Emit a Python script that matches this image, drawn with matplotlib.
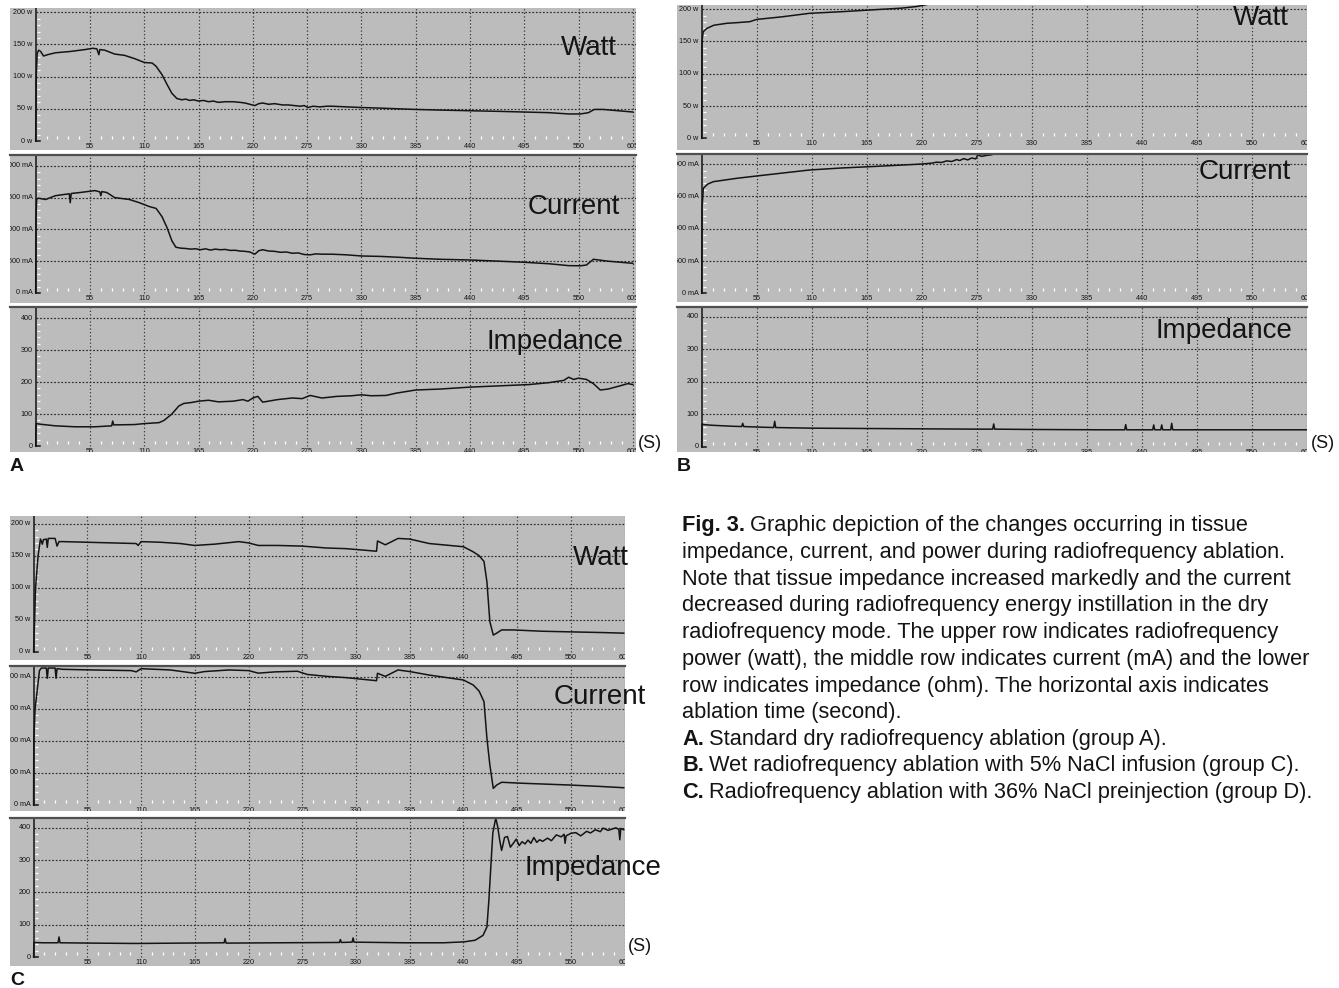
import matplotlib
matplotlib.use("Agg")
import matplotlib.pyplot as plt

plt.rcParams['font.family'] = ['Liberation Sans', 'DejaVu Sans']

# ---- data (time in s) ----
time_ticks = list(range(55, 606, 55))
watt_ticks = [0, 50, 100, 150, 200]
ma_ticks = [0, 500, 1000, 1500, 2000]
ohm_ticks = [0, 100, 200, 300, 400]

a_watt_t = [0, 0.5, 1.5, 3, 5, 8, 12, 20, 35, 50, 58, 62, 64, 65, 70, 80, 90, 100, 110, 118,
            122, 128, 133, 138, 143, 148, 152, 156, 160, 165, 170, 175, 180, 185, 192, 200, 207,
            212, 217, 222, 226, 230, 236, 242, 250, 256, 262, 268, 272, 276, 281, 288, 295, 300,
            315, 330, 350, 385, 410, 440, 470, 495, 520, 540, 552, 560, 566, 575, 590, 605]
a_watt_v = [0, 100, 136, 141, 139, 132, 134, 137, 139, 142, 144, 143, 134, 142, 141, 135, 133, 128,
            122, 121, 116, 103, 88, 74, 66, 64, 65, 63, 64, 62, 63, 61, 62, 60, 61, 61, 60, 59, 57,
            55, 58, 59, 57, 58, 56, 56, 55, 54, 55, 52, 54, 53, 54, 54, 53, 52, 51, 49, 48, 47, 46,
            45, 44, 42, 42, 44, 49, 49, 47, 45]

a_ma_t = [0, 0.3, 1, 3, 10, 20, 34, 35, 36, 45, 55, 60, 65, 66, 67, 72, 80, 95, 105, 115, 122, 128,
          133, 138, 142, 147, 152, 157, 162, 167, 172, 177, 182, 187, 192, 197, 202, 207, 212, 217,
          222, 226, 230, 236, 242, 248, 254, 260, 266, 272, 278, 284, 290, 300, 315, 330, 350, 370,
          385, 410, 440, 470, 495, 520, 540, 552, 558, 565, 580, 605]
a_ma_v = [0, 1200, 1480, 1490, 1470, 1530, 1560, 1420, 1565, 1580, 1600, 1610, 1590, 1530, 1595, 1580,
          1500, 1470, 1420, 1360, 1330, 1200, 1030, 820, 720, 705, 700, 690, 695, 680, 695, 675, 690,
          680, 685, 670, 672, 660, 655, 645, 610, 665, 680, 660, 655, 640, 645, 625, 630, 605, 600,
          615, 610, 610, 600, 582, 575, 560, 546, 530, 519, 500, 483, 460, 430, 428, 440, 530, 500,
          467]

a_ohm_t = [0, 0.3, 5, 20, 40, 60, 77, 78, 79, 80, 100, 110, 125, 130, 138, 145, 150, 158, 165, 175,
           185, 200, 210, 215, 220, 225, 230, 245, 260, 270, 278, 290, 305, 320, 330, 340, 355, 365,
           385, 410, 440, 470, 500, 520, 535, 540, 545, 550, 558, 565, 572, 580, 592, 600, 605]
a_ohm_v = [0, 70, 68, 63, 60, 60, 63, 78, 66, 66, 67, 70, 73, 80, 100, 125, 133, 136, 140, 143, 138,
           140, 145, 140, 150, 155, 137, 145, 150, 148, 158, 150, 155, 157, 160, 157, 158, 165, 175,
           178, 184, 188, 192, 198, 205, 215, 208, 212, 208, 195, 175, 178, 188, 195, 192]

b_watt_t = [0, 0.3, 1.5, 5, 12, 25, 35, 48, 55, 80, 108, 140, 168, 200, 215, 225]
b_watt_v = [0, 150, 165, 170, 175, 178, 179, 180.5, 184, 188, 193.5, 196, 198.6, 201.5, 204, 207]

b_ma_t = [0, 0.3, 1.6, 6, 11.6, 35, 55, 80, 108, 140, 168, 200, 220, 230, 235, 240, 245, 250, 255,
          258, 262, 266, 270, 274, 276, 280, 285, 290, 296]
b_ma_v = [0, 1300, 1625, 1690, 1728, 1780, 1816, 1860, 1909, 1940, 1960, 1985, 2001, 2015, 2030, 2025,
          2050, 2040, 2070, 2055, 2085, 2065, 2095, 2080, 2140, 2120, 2135, 2145, 2180]

b_ohm_t = [0, 0.3, 2, 10, 30, 40, 41, 42, 60, 72, 73, 74, 110, 165, 220, 275, 291, 292, 293, 330, 400,
           423, 424, 425, 440, 451, 452, 453, 459, 460, 461, 469, 470, 471, 500, 605]
b_ohm_v = [0, 70, 68, 66, 63, 62, 72, 62, 60, 59, 78, 59, 57, 56, 55, 54, 54, 70, 54, 53, 52, 52, 68,
           52, 52, 52, 67, 52, 52, 67, 52, 52, 72, 52, 52, 52]

c_watt_t = [0, 0.5, 2, 4.6, 7, 9, 10, 13, 14, 15, 22, 24, 26, 30, 55, 80, 105, 107, 110, 130, 150,
            165, 185, 210, 220, 230, 250, 275, 300, 320, 351, 352, 360, 373, 385, 405, 440, 450, 456,
            461, 464, 467, 470.5, 474, 479, 491, 520, 549, 580, 604]
c_watt_v = [0, 25, 100, 150, 176, 168, 175, 176, 163, 177, 177, 165, 172, 172, 171, 170, 169, 166, 172,
            171, 169, 166, 168, 172, 170, 166, 166, 165, 162, 161, 157, 173, 167, 177, 176, 169, 164,
            156, 150, 141, 109, 47, 26, 29, 34, 34, 32, 31, 30, 29]

c_ma_t = [0, 0.2, 1.5, 3, 6, 8, 13, 14, 15, 22, 23, 24, 30, 60, 100, 105, 110, 140, 165, 175, 200,
          220, 230, 247, 270, 280, 300, 320, 351, 352, 360, 373, 385, 405, 440, 450, 456, 461, 464,
          467, 470.5, 474, 479, 500, 549, 580, 604]
c_ma_v = [0, 1000, 1500, 1700, 2100, 2140, 2140, 1980, 2140, 2140, 1980, 2130, 2120, 2110, 2100, 2080,
          2130, 2110, 2058, 2085, 2110, 2100, 2060, 2080, 2090, 2040, 2010, 1990, 1942, 2058, 2010,
          2110, 2085, 2030, 1953, 1875, 1780, 1614, 1042, 625, 260, 312, 355, 340, 312, 290, 270]

c_ohm_t = [0, 0.3, 10, 25, 26, 27, 60, 100, 110, 150, 195, 196, 197, 250, 313, 314, 315, 326, 327,
           328, 380, 420, 441, 452, 460, 464, 466, 468, 470, 473, 475, 477, 479, 480, 482, 485, 488,
           491, 494, 497, 500, 503, 506, 509, 512, 515, 518, 521, 526, 530, 535, 540, 543, 544, 545,
           550, 555, 560, 566, 570, 575, 580, 583, 588, 592, 596, 599, 600, 601, 604]
c_ohm_v = [0, 45, 44, 44, 62, 44, 43, 42, 42, 43, 44, 57, 43, 44, 45, 54, 45, 46, 59, 46, 44, 44, 47,
           52, 67, 93, 176, 280, 383, 430, 404, 363, 330, 342, 370, 373, 340, 352, 365, 345, 357,
           350, 362, 352, 370, 355, 363, 358, 368, 360, 378, 372, 380, 352, 375, 383, 385, 375, 389,
           384, 394, 388, 399, 392, 396, 400, 395, 363, 398, 394]

caption = [
    ("Fig. 3.", " Graphic depiction of the changes occurring in tissue"),
    ("", "impedance, current, and power during radiofrequency ablation."),
    ("", "Note that tissue impedance increased markedly and the current"),
    ("", "decreased during radiofrequency energy instillation in the dry"),
    ("", "radiofrequency mode. The upper row indicates radiofrequency"),
    ("", "power (watt), the middle row indicates current (mA) and the lower"),
    ("", "row indicates impedance (ohm). The horizontal axis indicates"),
    ("", "ablation time (second)."),
    ("A.", " Standard dry radiofrequency ablation (group A)."),
    ("B.", " Wet radiofrequency ablation with 5% NaCl infusion (group C)."),
    ("C.", " Radiofrequency ablation with 36% NaCl preinjection (group D)."),
]

# ---- layout (pixels) ----
W, H = 1339, 988
GRAY = '#bcbcbc'
INK = '#141414'
GRID = '#2e2e2e'

fig = plt.figure(figsize=(W / 100, H / 100), dpi=100)
fig.patch.set_facecolor('white')


def strip(box, xmap, ymap, t, v, ticks, unit, minor_step, top_rule):
    l, tp, r, b = box
    x0, xs = xmap
    y0, ys = ymap
    ax = fig.add_axes([l / W, 1 - b / H, (r - l) / W, (b - tp) / H])
    xmin, xmax = (l - x0) / xs, (r - x0) / xs
    ymin, ymax = (y0 - b) / ys, (y0 - tp) / ys
    ax.set_xlim(xmin, xmax)
    ax.set_ylim(ymin, ymax)
    ax.set_facecolor(GRAY)
    for s in ax.spines.values():
        s.set_visible(False)
    if top_rule:
        ax.spines['top'].set_visible(True)
        ax.spines['top'].set_color('#505050')
        ax.spines['top'].set_linewidth(1.6)
    ax.set_xticks([])
    ax.set_yticks([])

    ax.vlines(time_ticks, 0, ymax, colors=GRID, linestyles=(0, (1, 2)), lw=0.85)
    ax.hlines(ticks[1:], 0, xmax, colors=GRID, linestyles=(0, (1.5, 1.5)), lw=0.85)

    xt = ax.get_xaxis_transform()
    yt = ax.get_yaxis_transform()
    f0 = (0 - ymin) / (ymax - ymin)
    g0 = (0 - xmin) / (xmax - xmin)
    fy = 1 / (b - tp)
    gx = 1 / (r - l)

    minor_t = [k for k in range(11, 606, 11) if k % 55]
    ax.vlines(minor_t, f0 + 2 * fy, f0 + 5 * fy, transform=xt, colors='white', lw=0.9)
    minor_y = [k for k in range(minor_step, ticks[-1], minor_step) if k % ticks[1]]
    ax.hlines(minor_y, g0 + 1.5 * gx, g0 + 4.5 * gx, transform=yt, colors='white', lw=0.9)

    for k in time_ticks:
        ax.text(k, f0 - 5.5 * fy, str(k), transform=xt, ha='center', va='center',
                fontsize=5.2, color=INK, clip_on=True)
    for k in ticks:
        lab = f"{k} {unit}" if unit else str(k)
        ax.text(g0 - 3 * gx, k, lab, transform=yt, ha='right', va='center',
                fontsize=5.2, color=INK, clip_on=True)

    ax.plot([0, 0], [0, ymax], color=INK, lw=1.1)
    ax.plot([0, 4 / xs], [0, 0], color=INK, lw=1.1)
    ax.plot(t, v, color=INK, lw=1.1)
    return ax


cols = {
    'A': ((10, 636), (35.7, 0.987)),
    'B': ((677, 1307), (701.7, 1.0)),
    'C': ((10, 625), (33.6, 0.977)),
}
rows = {
    'A': [((8, 150), (141, 0.644)), ((155, 303), (293, 0.0636)), ((307, 452), (446, 0.32))],
    'B': [((5, 150), (138.3, 0.646)), ((154, 302), (293.3, 0.0646)), ((307, 452), (446.7, 0.325))],
    'C': [((516, 660), (651.7, 0.64)), ((666, 811), (805, 0.064)), ((818, 966), (957, 0.323))],
}
series = {
    'A': [(a_watt_t, a_watt_v), (a_ma_t, a_ma_v), (a_ohm_t, a_ohm_v)],
    'B': [(b_watt_t, b_watt_v), (b_ma_t, b_ma_v), (b_ohm_t, b_ohm_v)],
    'C': [(c_watt_t, c_watt_v), (c_ma_t, c_ma_v), (c_ohm_t, c_ohm_v)],
}
kinds = [(watt_ticks, 'w', 10), (ma_ticks, 'mA', 100), (ohm_ticks, '', 20)]
names = ['Watt', 'Current', 'Impedance']
name_pos = {
    'A': [(589, 48), (574, 207), (555, 342)],
    'B': [(1261, 18), (1245, 172), (1224, 331)],
    'C': [(601, 558), (600, 697), (593, 868)],
}

for p in 'ABC':
    (l, r), xmap = cols[p]
    for i in range(3):
        (tp, b), ymap = rows[p][i]
        t, v = series[p][i]
        ticks, unit, step = kinds[i]
        strip((l, tp, r, b), xmap, ymap, t, v, ticks, unit, step, top_rule=(i > 0))
        nx, ny = name_pos[p][i]
        fig.text(nx / W, 1 - ny / H, names[i], ha='center', va='center',
                 fontsize=20, color=INK)

for p, (x, y) in {'A': (10, 466), 'B': (677, 466), 'C': (10, 980)}.items():
    fig.text(x / W, 1 - y / H, p, ha='left', va='center', fontsize=14,
             fontweight='bold', color=INK)

for x, y in [(638, 443), (1311, 443), (628, 946)]:
    fig.text(x / W, 1 - y / H, "(S)", ha='left', va='center', fontsize=13, color=INK)

# caption, one text per printed line; bold lead-ins measured so the rest follows them
renderer = fig.canvas.get_renderer()
line_base = [531, 558, 585, 611, 638, 665, 692, 718, 745, 771, 798]
cap_size = 15.7
for (bold, rest), y in zip(caption, line_base):
    yf = 1 - y / H
    x_px = 682
    if bold:
        lead = fig.text(x_px / W, yf, bold, ha='left', va='baseline', fontsize=cap_size,
                        fontweight='bold', color=INK)
        x_px = lead.get_window_extent(renderer).x1
        rest = rest.lstrip()
        x_px += 5
    fig.text(x_px / W, yf, rest, ha='left', va='baseline', fontsize=cap_size, color=INK)

fig.savefig("out.png", dpi=100, facecolor='white')
